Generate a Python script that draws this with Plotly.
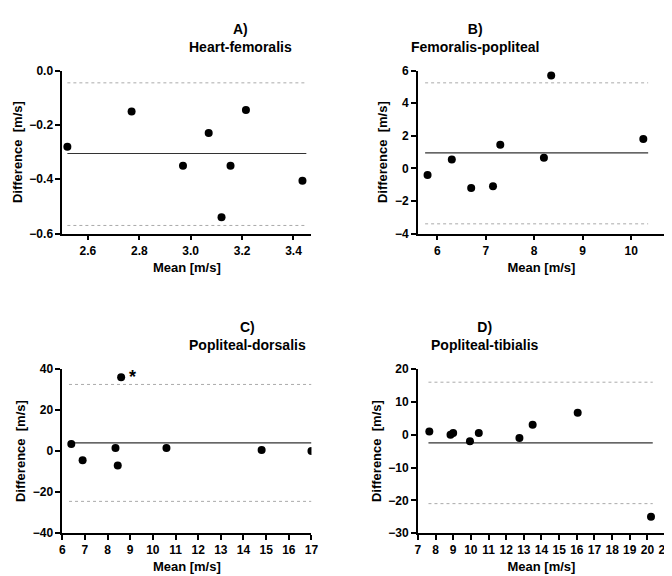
import plotly.graph_objects as go

titles = ["A)<br>Heart-femoralis", "B)<br>Femoralis-popliteal", "C)<br>Popliteal-dorsalis", "D)<br>Popliteal-tibialis"]
ax_x = [2.52, 2.77, 2.97, 3.07, 3.12, 3.155, 3.215, 3.435]
ay = [-0.28, -0.15, -0.35, -0.23, -0.54, -0.35, -0.145, -0.405]
bx = [5.8, 6.3, 6.7, 7.15, 7.3, 8.2, 8.35, 10.25]
by = [-0.4, 0.55, -1.2, -1.1, 1.45, 0.65, 5.7, 1.8]
cx = [6.4, 6.9, 8.35, 8.45, 8.6, 10.6, 14.8, 17.0]
cy = [3.5, -4.5, 1.5, -7, 36, 1.5, 0.5, 0]
dx = [7.65, 8.85, 9.0, 9.95, 10.45, 12.75, 13.5, 16.05, 20.2]
dy = [1, 0, 0.5, -2, 0.5, -1, 3, 6.7, -25]
bias = [-0.305, 0.95, 4, -2.5]
upper = [-0.045, 5.25, 32.5, 16]
lower = [-0.57, -3.4, -24.5, -21]
xranges = [[2.5, 3.47], [5.6, 10.7], [6, 17], [7, 21]]
yranges = [[-0.6, 0], [-4, 6], [-40, 40], [-30, 20]]
xdtick = [0.2, 1, 1, 1]
ydtick = [0.2, 2, 20, 10]
line_x = [[2.52, 3.45], [5.75, 10.35], [6.3, 17], [7.6, 20.3]]

data = [(ax_x, ay), (bx, by), (cx, cy), (dx, dy)]
xd = [[52/672, 305/672], [413/672, 664/672]]
yd = [[0.611, 0.901], [0.078, 0.370]]

font = dict(family="Liberation Sans, Arial", size=12, color="black")
fig = go.Figure()
for i, (x, y) in enumerate(data):
    n = "" if i == 0 else str(i + 1)
    xa, ya = "x" + n, "y" + n
    lx = line_x[i]
    for val, dash, col, w in [(bias[i], "solid", "#333", 1.2), (upper[i], "dot", "#aaa", 1), (lower[i], "dot", "#aaa", 1)]:
        fig.add_trace(go.Scatter(x=lx, y=[val, val], mode="lines", xaxis=xa, yaxis=ya,
                                 line=dict(color=col, width=w, dash=dash), showlegend=False, hoverinfo="skip"))
    fig.add_trace(go.Scatter(x=x, y=y, mode="markers", xaxis=xa, yaxis=ya,
                             marker=dict(color="black", size=8), showlegend=False))
    r, c = divmod(i, 2)
    common = dict(showline=True, linecolor="black", linewidth=1.5, ticks="outside", ticklen=5,
                  tickcolor="black", tickwidth=1.5, showgrid=False, zeroline=False,
                  tickfont=dict(family="Liberation Sans", size=12, color="black", weight="bold"))
    fig.layout["xaxis" + n] = dict(domain=xd[c], anchor=ya, range=xranges[i], dtick=xdtick[i],
                                   title=dict(text="<b>Mean [m/s]</b>", standoff=6,
                                              font=dict(size=13)), **common)
    fig.layout["yaxis" + n] = dict(domain=yd[r], anchor=xa, range=yranges[i], dtick=ydtick[i],
                                   title=dict(text="<b>Difference  [m/s]</b>", standoff=4,
                                              font=dict(size=13)), **common)
    fig.add_annotation(text="<b>" + titles[i] + "</b>", xref="paper", yref="paper", align="center",
                       x=sum(xd[c]) / 2, y=yd[r][1] + 0.025, yanchor="bottom", showarrow=False,
                       font=dict(family="Liberation Sans", size=14, color="black"))

fig.add_annotation(text="<b>*</b>", x=9.1, y=36, xref="x3", yref="y3", showarrow=False,
                   font=dict(family="Liberation Sans", size=18, color="black"))

fig.update_layout(width=672, height=576, margin=dict(l=0, r=0, t=0, b=0),
                  paper_bgcolor="white", plot_bgcolor="white", font=font)
fig.layout.xaxis.tickformat = ".1f"
fig.layout.yaxis.tickformat = ".1f"
fig.write_html("out.html")
